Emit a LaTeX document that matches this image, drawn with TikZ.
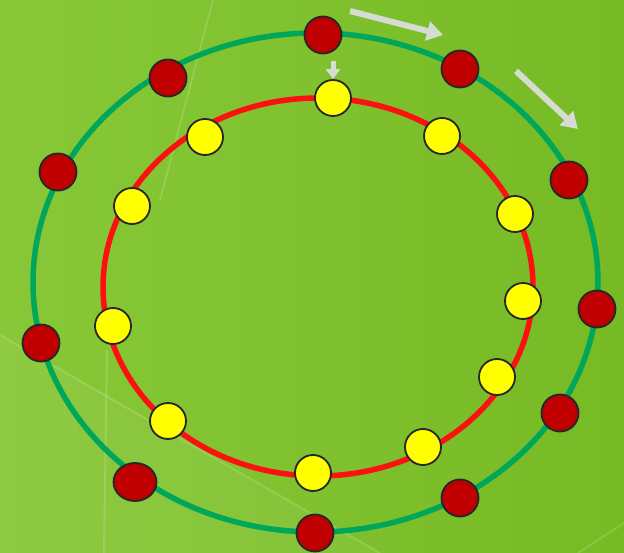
\documentclass[tikz,border=0pt]{standalone}
\usetikzlibrary{arrows.meta,shapes.geometric}
\definecolor{bgL}{RGB}{136,200,56}
\definecolor{bgR}{RGB}{118,186,36}
\definecolor{ringG}{RGB}{0,166,90}
\definecolor{ringR}{RGB}{255,16,16}
\definecolor{dotR}{RGB}{192,0,0}
\definecolor{dotY}{RGB}{255,255,0}
\definecolor{arrG}{RGB}{214,220,212}
\tikzset{
  reddot/.style={circle,draw=black!85,line width=1.8pt,fill=dotR,minimum size=37pt,inner sep=0pt},
  yeldot/.style={circle,draw=black!85,line width=1.8pt,fill=dotY,minimum size=36pt,inner sep=0pt},
  ring/.style={line width=5.5pt},
  bigarr/.style={draw=arrG,line width=6pt,-{Triangle[width=19pt,length=16pt]}},
  smallarr/.style={draw=arrG,line width=5pt,-{Triangle[width=14pt,length=10pt]}},
  faint/.style={draw=white,opacity=0.15,line width=2pt}
}
\begin{document}
\begin{tikzpicture}[x=1pt,y=-1pt]
\useasboundingbox (0,0) rectangle (624,553);
\shade[left color=bgL,right color=bgR] (0,0) rectangle (624,553);
\fill[white,opacity=0.05] (0,335) -- (380,553) -- (0,553) -- cycle;
\draw[faint] (213,0) -- (160,200);
\draw[faint] (0,335) -- (380,553);
\draw[faint] (107,350) -- (104,553);
\draw[faint] (578,553) -- (624,523);
% rings
\draw[ring,ringG] (315.5,282.5) ellipse [x radius=282.5,y radius=249.5];
\draw[ring,ringR] (318,287) ellipse [x radius=215,y radius=189];
% red dots
\node[reddot] (r1) at (323,35) {};
\node[reddot] (r2) at (460,69) {};
\node[reddot] (r3) at (569,180) {};
\node[reddot] (r4) at (597,309) {};
\node[reddot] (r5) at (560,413) {};
\node[reddot] (r6) at (460,498) {};
\node[reddot] (r7) at (315,533) {};
\node[reddot,ellipse,minimum width=43pt,minimum height=38pt] (r8) at (135,482) {};
\node[reddot] (r9) at (41,343) {};
\node[reddot] (r10) at (58,172) {};
\node[reddot] (r11) at (168,78) {};
% yellow dots
\node[yeldot] (y1) at (333,98) {};
\node[yeldot] (y2) at (442,136) {};
\node[yeldot] (y3) at (515,214) {};
\node[yeldot] (y4) at (523,301) {};
\node[yeldot] (y5) at (497,377) {};
\node[yeldot] (y6) at (423,447) {};
\node[yeldot] (y7) at (313,473) {};
\node[yeldot] (y8) at (168,421) {};
\node[yeldot] (y9) at (113,326) {};
\node[yeldot] (y10) at (132,206) {};
\node[yeldot] (y11) at (205,137) {};
% arrows
\coordinate (a1s) at (350,11);
\coordinate (a1e) at (443,35);
\coordinate (a2s) at (516,71);
\coordinate (a2e) at (578,129);
\coordinate (a3s) at (333,61);
\draw[bigarr] (a1s) -- (a1e);
\draw[bigarr] (a2s) -- (a2e);
\draw[smallarr] (a3s) -- (y1.north);
\end{tikzpicture}
\end{document}
